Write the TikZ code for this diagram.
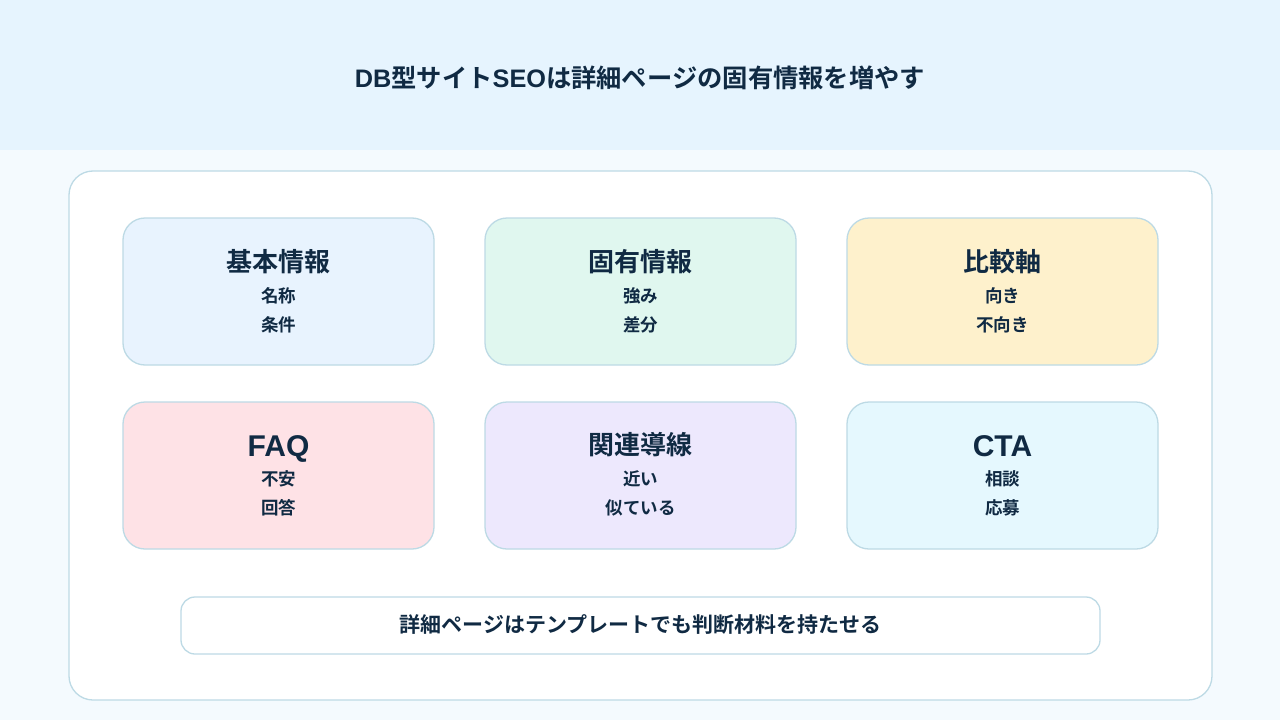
\documentclass[tikz,border=0pt]{standalone}
\usepackage{fontspec}
\setmainfont{Noto Sans CJK JP}[BoldFont={Noto Sans CJK JP Bold}]
\newfontfamily\latfont{Liberation Sans}
\definecolor{hdr}{HTML}{E6F4FE}
\definecolor{pagebg}{HTML}{F4FAFE}
\definecolor{edge}{HTML}{BDDAE5}
\definecolor{ink}{HTML}{102A43}
\definecolor{cA}{HTML}{E8F3FE}
\definecolor{cB}{HTML}{E0F7EF}
\definecolor{cC}{HTML}{FEF1CC}
\definecolor{cD}{HTML}{FEE2E6}
\definecolor{cE}{HTML}{EDE8FD}
\definecolor{cF}{HTML}{E5F8FE}
\tikzset{
  card/.style={draw=edge, line width=1.3pt, rounded corners=22pt, minimum width=311pt, minimum height=147pt, inner sep=0pt},
  cardtitle/.style={text=ink, font=\bfseries\fontsize{26}{30}\selectfont, inner sep=0pt, anchor=center},
  lattitle/.style={text=ink, font=\latfont\bfseries\fontsize{30}{34}\selectfont, inner sep=0pt, anchor=base},
  cardsub/.style={text=ink, font=\bfseries\fontsize{17.5}{20}\selectfont, inner sep=0pt, anchor=center},
}
\begin{document}
\begin{tikzpicture}[x=1pt,y=-1pt]
\useasboundingbox (0,0) rectangle (1280,720);
\fill[pagebg] (0,0) rectangle (1280,720);
\fill[hdr] (0,0) rectangle (1280,150);
\node[text=ink, font=\bfseries\fontsize{25.3}{28}\selectfont, inner sep=0pt] (title) at (640,78) {{\latfont\bfseries DB}型サイト{\latfont\bfseries SEO}は詳細ページの固有情報を増やす};
\node[draw=edge, fill=white, line width=1.3pt, rounded corners=24pt, minimum width=1143pt, minimum height=529pt, inner sep=0pt] (panel) at (640.5,435.5) {};
% cards
\node[card, fill=cA] (c1) at (278.5,291.5) {};
\node[card, fill=cB] (c2) at (640.5,291.5) {};
\node[card, fill=cC] (c3) at (1002.5,291.5) {};
\node[card, fill=cD] (c4) at (278.5,475.5) {};
\node[card, fill=cE] (c5) at (640.5,475.5) {};
\node[card, fill=cF] (c6) at (1002.5,475.5) {};
% texts row 1
\node[cardtitle] (t1) at (278.5,262) {基本情報};
\node[cardsub] (s1a) at (278.5,296) {名称};
\node[cardsub] (s1b) at (278.5,325) {条件};
\node[cardtitle] (t2) at (640.5,262) {固有情報};
\node[cardsub] (s2a) at (640.5,296) {強み};
\node[cardsub] (s2b) at (640.5,325) {差分};
\node[cardtitle] (t3) at (1002.5,262) {比較軸};
\node[cardsub] (s3a) at (1002.5,296) {向き};
\node[cardsub] (s3b) at (1002.5,325) {不向き};
% texts row 2
\node[lattitle] (t4) at (278.5,456) {FAQ};
\node[cardsub] (s4a) at (278.5,479) {不安};
\node[cardsub] (s4b) at (278.5,508) {回答};
\node[cardtitle] (t5) at (640.5,445) {関連導線};
\node[cardsub] (s5a) at (640.5,479) {近い};
\node[cardsub] (s5b) at (640.5,508) {似ている};
\node[lattitle] (t6) at (1002.5,456) {CTA};
\node[cardsub] (s6a) at (1002.5,479) {相談};
\node[cardsub] (s6b) at (1002.5,508) {応募};
% bottom note
\node[draw=edge, fill=white, line width=1.3pt, rounded corners=14pt, minimum width=919pt, minimum height=57pt, inner sep=0pt] (note) at (640.5,625.5) {};
\node[text=ink, font=\bfseries\fontsize{21}{24}\selectfont, inner sep=0pt] (notetext) at (640.5,625) {詳細ページはテンプレートでも判断材料を持たせる};
\end{tikzpicture}
\end{document}
